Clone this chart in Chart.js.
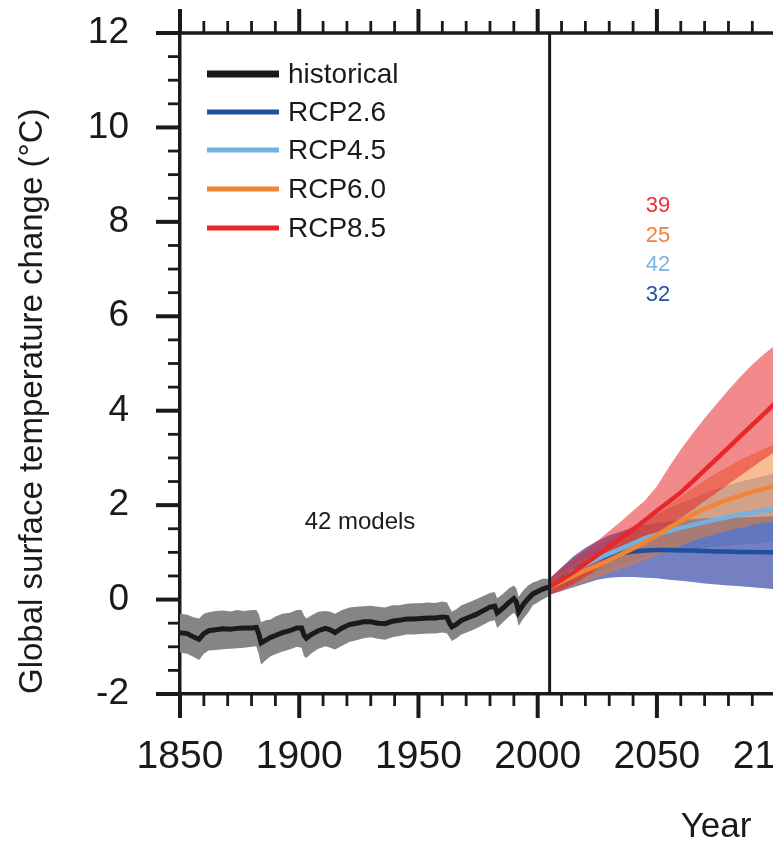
<!DOCTYPE html>
<html lang="en">
<head>
    <meta charset="UTF-8">
    <title>Global surface temperature change</title>
    <style>
        html, body {
          margin: 0;
          padding: 0;
          background: #fff;
          overflow: hidden;
        }
        #wrap {
          width: 802px;
          height: 845px;
        }
        canvas {
          display: block;
        }
    </style>
</head>
<body>
<div id="wrap">
    <canvas id="tempChart" width="802" height="845"></canvas>
</div>

<script src="https://cdn.jsdelivr.net/npm/chart.js"></script>
<script>
    // ---- data ----
    const histYears = [1850, 1853, 1856, 1858, 1860, 1862, 1865, 1868, 1871, 1874, 1877, 1880, 1882, 1883, 1884, 1886, 1888, 1890, 1893, 1896, 1899,
      1901, 1902, 1903, 1905, 1908, 1911, 1913, 1915, 1918, 1921, 1924, 1927, 1930, 1933, 1936, 1939, 1942, 1945, 1948,
      1951, 1954, 1957, 1960, 1962, 1963, 1964, 1966, 1968, 1971, 1974, 1977, 1980, 1982, 1983, 1985, 1988, 1990, 1991,
      1992, 1994, 1996, 1998, 2000, 2002, 2005];
    const histMean = [-0.70, -0.72, -0.80, -0.84, -0.72, -0.66, -0.64, -0.62, -0.63, -0.61, -0.60, -0.60, -0.59, -0.72, -0.92, -0.86, -0.80, -0.76, -0.70, -0.66, -0.60,
      -0.60, -0.75, -0.82, -0.74, -0.66, -0.61, -0.64, -0.70, -0.60, -0.53, -0.50, -0.47, -0.47, -0.50, -0.51, -0.46, -0.44, -0.41, -0.41,
      -0.40, -0.39, -0.39, -0.37, -0.38, -0.50, -0.58, -0.52, -0.44, -0.38, -0.32, -0.24, -0.16, -0.14, -0.28, -0.20, -0.06, 0.02, -0.05,
      -0.26, -0.10, 0.02, 0.12, 0.17, 0.22, 0.27];
    const histLow = [-1.12, -1.15, -1.22, -1.28, -1.15, -1.08, -1.07, -1.05, -1.04, -1.03, -1.02, -1.00, -0.99, -1.15, -1.38, -1.28, -1.20, -1.16, -1.10, -1.06, -1.00,
      -1.02, -1.20, -1.24, -1.14, -1.04, -0.99, -1.02, -1.06, -0.98, -0.90, -0.86, -0.82, -0.80, -0.83, -0.85, -0.80, -0.77, -0.74, -0.74,
      -0.73, -0.72, -0.72, -0.70, -0.72, -0.80, -0.88, -0.82, -0.74, -0.68, -0.62, -0.54, -0.46, -0.44, -0.60, -0.50, -0.36, -0.28, -0.35,
      -0.56, -0.40, -0.28, -0.12, -0.06, 0.00, 0.08];
    const histHigh = [-0.30, -0.32, -0.38, -0.40, -0.30, -0.27, -0.24, -0.23, -0.25, -0.22, -0.24, -0.22, -0.22, -0.30, -0.48, -0.44, -0.42, -0.36, -0.30, -0.28, -0.22,
      -0.22, -0.34, -0.40, -0.34, -0.26, -0.24, -0.26, -0.30, -0.22, -0.17, -0.15, -0.14, -0.13, -0.15, -0.17, -0.12, -0.12, -0.09, -0.08,
      -0.08, -0.06, -0.07, -0.04, -0.06, -0.16, -0.26, -0.20, -0.12, -0.06, 0.00, 0.07, 0.14, 0.16, 0.03, 0.10, 0.24, 0.30, 0.24,
      0.06, 0.20, 0.30, 0.36, 0.40, 0.44, 0.44];

    const rcpYears = [2005, 2010, 2015, 2020, 2025, 2030, 2035, 2040, 2045, 2050, 2055, 2060, 2065, 2070, 2075, 2080, 2085, 2090, 2095, 2100];

    const rcp26Mean = [0.27, 0.44, 0.62, 0.76, 0.86, 0.93, 0.98, 1.02, 1.04, 1.05, 1.05, 1.04, 1.04, 1.03, 1.02, 1.02, 1.01, 1.01, 1.00, 1.00];
    const rcp26Low = [0.10, 0.18, 0.26, 0.34, 0.42, 0.46, 0.48, 0.48, 0.46, 0.45, 0.42, 0.40, 0.37, 0.34, 0.32, 0.30, 0.28, 0.26, 0.24, 0.22];
    const rcp26High = [0.44, 0.68, 0.92, 1.10, 1.24, 1.36, 1.44, 1.52, 1.58, 1.62, 1.66, 1.68, 1.70, 1.72, 1.73, 1.74, 1.74, 1.75, 1.76, 1.77];

    const rcp45Mean = [0.27, 0.42, 0.60, 0.74, 0.86, 0.97, 1.08, 1.19, 1.30, 1.38, 1.45, 1.52, 1.58, 1.64, 1.70, 1.75, 1.80, 1.84, 1.88, 1.91];
    const rcp45Low = [0.10, 0.22, 0.36, 0.48, 0.58, 0.66, 0.74, 0.82, 0.90, 0.96, 1.00, 1.04, 1.08, 1.10, 1.12, 1.14, 1.16, 1.18, 1.20, 1.22];
    const rcp45High = [0.44, 0.64, 0.84, 1.00, 1.14, 1.28, 1.42, 1.56, 1.70, 1.82, 1.94, 2.04, 2.14, 2.24, 2.34, 2.42, 2.50, 2.56, 2.62, 2.68];

    const rcp60Mean = [0.26, 0.38, 0.50, 0.62, 0.72, 0.84, 0.96, 1.08, 1.22, 1.36, 1.52, 1.66, 1.80, 1.92, 2.02, 2.12, 2.20, 2.28, 2.35, 2.42];
    const rcp60Low = [0.10, 0.18, 0.28, 0.38, 0.46, 0.56, 0.66, 0.74, 0.84, 0.94, 1.04, 1.14, 1.24, 1.32, 1.40, 1.46, 1.52, 1.58, 1.62, 1.66];
    const rcp60High = [0.42, 0.58, 0.72, 0.86, 0.98, 1.12, 1.28, 1.44, 1.62, 1.80, 2.00, 2.18, 2.36, 2.52, 2.68, 2.82, 2.96, 3.08, 3.20, 3.30];

    const rcp85Mean = [0.27, 0.42, 0.58, 0.76, 0.94, 1.12, 1.30, 1.48, 1.68, 1.88, 2.07, 2.27, 2.50, 2.74, 2.98, 3.22, 3.46, 3.70, 3.94, 4.18];
    const rcp85Low = [0.10, 0.20, 0.32, 0.48, 0.64, 0.80, 0.96, 1.10, 1.26, 1.40, 1.56, 1.72, 1.90, 2.08, 2.26, 2.44, 2.62, 2.80, 2.98, 3.14];
    const rcp85High = [0.45, 0.68, 0.88, 1.06, 1.24, 1.45, 1.66, 1.88, 2.10, 2.40, 2.80, 3.18, 3.52, 3.84, 4.14, 4.44, 4.72, 4.98, 5.20, 5.40];

    const seriesNames = ['historical', 'RCP2.6', 'RCP4.5', 'RCP6.0', 'RCP8.5'];
    const modelCounts = ['39', '25', '42', '32'];  // RCP8.5, 6.0, 4.5, 2.6 (top to bottom)
    const histModels = '42 models';
    const yearTicks = [1850, 1900, 1950, 2000, 2050, 2100];

    const lineColors = ['#1a1a1a', '#1f4f9f', '#72b2e2', '#f08536', '#e8262b'];
    const bandColors = ['#858585', 'rgba(30,50,155,0.62)', 'rgba(70,110,190,0.4)', 'rgba(240,125,45,0.5)', 'rgba(230,30,35,0.52)'];
    const countColors = ['#e8303a', '#f3813e', '#7ab5e5', '#2550a3'];

    const FONT = '"Liberation Sans", Arial, Helvetica, sans-serif';
    const INK = '#1a1a1a';

    function pts(xs, ys) {
      return xs.map((x, i) => ({ x: x, y: ys[i] }));
    }

    function band(xs, lo, hi, color, order) {
      return [
        { data: pts(xs, lo), borderWidth: 0, pointRadius: 0, fill: false, order: order },
        { data: pts(xs, hi), borderWidth: 0, pointRadius: 0, fill: '-1', backgroundColor: color, order: order }
      ];
    }

    function line(xs, ys, color, width, order) {
      return { data: pts(xs, ys), borderColor: color, borderWidth: width, pointRadius: 0, fill: false, order: order };
    }

    const datasets = [
      ...band(histYears, histLow, histHigh, bandColors[0], 9),
      ...band(rcpYears, rcp26Low, rcp26High, bandColors[1], 8),
      ...band(rcpYears, rcp45Low, rcp45High, bandColors[2], 7),
      ...band(rcpYears, rcp60Low, rcp60High, bandColors[3], 6),
      ...band(rcpYears, rcp85Low, rcp85High, bandColors[4], 5),
      line(histYears, histMean, lineColors[0], 5, 4),
      line(rcpYears, rcp26Mean, lineColors[1], 4.5, 3),
      line(rcpYears, rcp45Mean, lineColors[2], 4.5, 2),
      line(rcpYears, rcp60Mean, lineColors[3], 4.5, 1),
      line(rcpYears, rcp85Mean, lineColors[4], 4.5, 0)
    ];

    // axis ticks (outside), top frame, 2005 divider, legend and labels
    const decorations = {
      id: 'decorations',
      afterDraw(chart) {
        const c = chart.ctx;
        const xs = chart.scales.x, ys = chart.scales.y;
        const a = chart.chartArea;
        c.save();
        c.strokeStyle = INK;
        c.lineCap = 'butt';

        // top frame line
        c.lineWidth = 3.5;
        c.beginPath();
        c.moveTo(a.left - 24, a.top);
        c.lineTo(a.right, a.top);
        c.stroke();

        // y ticks
        for (let v = -2; v <= 12; v += 0.5) {
          const major = v % 2 === 0;
          const y = ys.getPixelForValue(v);
          c.lineWidth = major ? 4 : 2.8;
          c.beginPath();
          c.moveTo(a.left - (major ? 24 : 12), y);
          c.lineTo(a.left, y);
          c.stroke();
        }

        // x ticks, bottom and top
        for (let yr = 1850; yr <= 2110; yr += 10) {
          const major = yr % 50 === 0;
          const x = xs.getPixelForValue(yr);
          const len = major ? 24 : 12;
          c.lineWidth = major ? 4 : 2.8;
          c.beginPath();
          c.moveTo(x, a.bottom);
          c.lineTo(x, a.bottom + len);
          c.moveTo(x, a.top);
          c.lineTo(x, a.top - len);
          c.stroke();
        }

        // start of the scenarios
        const xd = xs.getPixelForValue(2005);
        c.lineWidth = 3;
        c.beginPath();
        c.moveTo(xd, a.top);
        c.lineTo(xd, a.bottom);
        c.stroke();

        // legend
        c.font = '28px ' + FONT;
        c.textAlign = 'left';
        c.textBaseline = 'middle';
        const rowY = [74, 112, 150, 189, 228];
        seriesNames.forEach((name, i) => {
          c.strokeStyle = lineColors[i];
          c.lineWidth = i === 0 ? 7 : 5;
          c.beginPath();
          c.moveTo(207, rowY[i]);
          c.lineTo(279, rowY[i]);
          c.stroke();
          c.fillStyle = INK;
          c.fillText(name, 288, rowY[i] + 1);
        });

        // model counts
        c.font = '22px ' + FONT;
        c.textAlign = 'center';
        const cy = [206, 236, 265, 295];
        modelCounts.forEach((t, i) => {
          c.fillStyle = countColors[i];
          c.fillText(t, 658, cy[i]);
        });

        c.fillStyle = INK;
        c.font = '24px ' + FONT;
        c.fillText(histModels, 360, 522);

        // x-axis title
        c.font = '35px ' + FONT;
        c.fillText('Year', 716, 827);
        c.restore();
      }
    };

    const ctx = document.getElementById('tempChart').getContext('2d');
    const tempChart = new Chart(ctx, {
      type: 'line',
      data: { datasets: datasets },
      options: {
        responsive: false,
        animation: false,
        layout: { padding: { top: 33, right: 2, left: 0, bottom: 0 } },
        plugins: {
          legend: { display: false },
          tooltip: { enabled: false }
        },
        elements: { line: { tension: 0 } },
        scales: {
          x: {
            type: 'linear',
            min: 1850,
            max: 2110,
            grid: { display: false, drawTicks: false },
            border: { display: true, color: INK, width: 3.5 },
            afterBuildTicks(scale) {
              scale.ticks = yearTicks.map(v => ({ value: v }));
            },
            afterFit(scale) {
              scale.height = 151;
              scale.paddingLeft = 0;
              scale.paddingRight = 0;
            },
            ticks: {
              autoSkip: false,
              maxRotation: 0,
              padding: 40,
              color: INK,
              font: { family: FONT, size: 39 },
              callback: v => String(v)
            }
          },
          y: {
            min: -2,
            max: 12,
            grid: { display: false, drawTicks: false },
            border: { display: true, color: INK, width: 3.5 },
            afterFit(scale) {
              scale.width = 180;
              scale.paddingTop = 0;
              scale.paddingBottom = 0;
            },
            ticks: {
              stepSize: 2,
              padding: 51,
              color: INK,
              font: { family: FONT, size: 37 }
            },
            title: {
              display: true,
              text: 'Global surface temperature change (°C)',
              align: 'start',
              color: INK,
              font: { family: FONT, size: 33 },
              padding: { top: 13, bottom: 0 }
            }
          }
        }
      },
      plugins: [decorations]
    });
</script>
</body>
</html>
